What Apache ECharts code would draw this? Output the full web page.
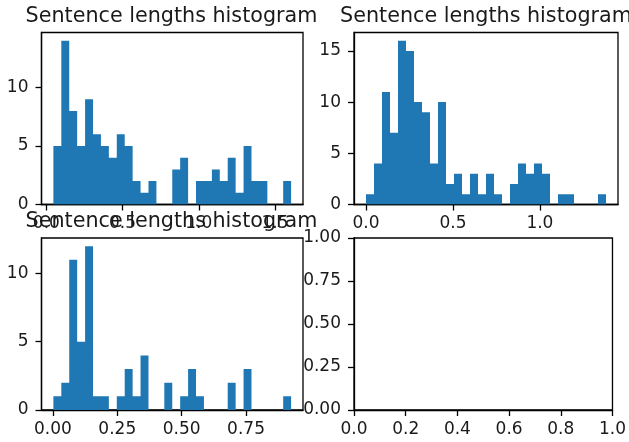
<!DOCTYPE html>
<html>
<head>
<meta charset="utf-8">
<script src="https://cdn.jsdelivr.net/npm/echarts@6/dist/echarts.min.js"></script>
<style>
html,body{margin:0;padding:0;background:#fff;}
#chart{width:629px;height:442px;}
</style>
</head>
<body>
<div id="chart"></div>
<script>
// ---- data ----
var titleText = 'Sentence lengths histogram';

// histogram 1 (top-left): 30 bins over the data range
var hist1Range = [0.046, 1.606];
var hist1Counts = [5, 14, 8, 5, 9, 6, 5, 4, 6, 5, 2, 1, 2, 0, 0, 3, 4, 0, 2, 2, 3, 2, 4, 1, 5, 2, 2, 0, 0, 2];

// histogram 2 (top-right)
var hist2Range = [0.0, 1.38];
var hist2Counts = [1, 4, 11, 7, 16, 15, 10, 9, 4, 10, 2, 3, 1, 3, 1, 3, 1, 0, 2, 4, 3, 4, 3, 0, 1, 1, 0, 0, 0, 1];

// histogram 3 (bottom-left)
var hist3Range = [0.002, 0.925];
var hist3Counts = [1, 2, 11, 5, 12, 1, 1, 0, 1, 3, 1, 4, 0, 0, 2, 0, 1, 3, 1, 0, 0, 0, 2, 0, 3, 0, 0, 0, 0, 1];

// axis limits
var xLim1 = [-0.032, 1.684], yLim1 = [0, 14.7];
var xLim2 = [-0.069, 1.449], yLim2 = [0, 16.8];
var xLim3 = [-0.0442, 0.9712], yLim3 = [0, 12.6];
var xLim4 = [0, 1], yLim4 = [0, 1];

// tick values
var xTicks1 = [0, 0.5, 1.0, 1.5];
var yTicks1 = [0, 5, 10];
var xTicks2 = [0, 0.5, 1.0];
var yTicks2 = [0, 5, 10, 15];
var xTicks3 = [0, 0.25, 0.5, 0.75];
var yTicks3 = [0, 5, 10];
var xTicks4 = [0, 0.2, 0.4, 0.6, 0.8, 1.0];
var yTicks4 = [0, 0.25, 0.5, 0.75, 1.0];

// ---- build ----
// step outline of the histogram: left edge of each bin with its count, plus the right end
function stepData(range, counts) {
  var n = counts.length, w = (range[1] - range[0]) / n, out = [];
  for (var i = 0; i < n; i++) out.push([range[0] + i * w, counts[i]]);
  out.push([range[1], counts[n - 1]]);
  return out;
}

var FONT = 'DejaVu Sans';
var TXT = '#1a1a1a';
var LINE = '#000';
var BAR = '#1f77b4';

var grids = [
  {left: 41.5, top: 32.5, width: 261.5, height: 172},
  {left: 354, top: 32.5, width: 264, height: 172},
  {left: 41.5, top: 238, width: 261.5, height: 172},
  {left: 354, top: 238, width: 264, height: 172}
];
grids.forEach(function (g) {
  g.show = true; g.borderColor = LINE; g.borderWidth = 1.3; g.backgroundColor = 'transparent';
  g.containLabel = false;
});

function xAxis(idx, lim, ticks, digits) {
  return {
    gridIndex: idx, type: 'value', min: lim[0], max: lim[1],
    axisLine: {show: true, onZero: false, lineStyle: {color: LINE, width: 1.3}},
    axisTick: {show: true, inside: false, length: 6, customValues: ticks, lineStyle: {color: LINE, width: 1.3}},
    axisLabel: {show: true, customValues: ticks, margin: 11, fontSize: 17, fontFamily: FONT, color: TXT,
      formatter: function (v) { return Number(v).toFixed(digits); }},
    splitLine: {show: false}
  };
}
function yAxis(idx, lim, ticks, digits) {
  return {
    gridIndex: idx, type: 'value', min: lim[0], max: lim[1],
    axisLine: {show: true, onZero: false, lineStyle: {color: LINE, width: 1.3}},
    axisTick: {show: true, inside: false, length: 6, customValues: ticks, lineStyle: {color: LINE, width: 1.3}},
    axisLabel: {show: true, customValues: ticks, margin: 13, fontSize: 17, fontFamily: FONT, color: TXT,
      formatter: function (v) { return Number(v).toFixed(digits); }},
    splitLine: {show: false}
  };
}

function histSeries(idx, range, counts) {
  return {
    type: 'line', xAxisIndex: idx, yAxisIndex: idx,
    data: stepData(range, counts),
    step: 'end',
    showSymbol: false, symbol: 'none',
    lineStyle: {width: 0, opacity: 0},
    areaStyle: {color: BAR, opacity: 1, origin: 0},
    silent: true,
    z: 1
  };
}

function title(cx, top) {
  return {text: titleText, left: cx, top: top, textAlign: 'center', padding: 0,
    textStyle: {fontSize: 20.7, fontWeight: 'normal', fontFamily: FONT, color: TXT}};
}

var option = {
  animation: false,
  backgroundColor: '#fff',
  title: [title(171.5, 6), title(486, 6), title(171.5, 211.5)],
  grid: grids,
  xAxis: [xAxis(0, xLim1, xTicks1, 1), xAxis(1, xLim2, xTicks2, 1), xAxis(2, xLim3, xTicks3, 2), xAxis(3, xLim4, xTicks4, 1)],
  yAxis: [yAxis(0, yLim1, yTicks1, 0), yAxis(1, yLim2, yTicks2, 0), yAxis(2, yLim3, yTicks3, 0), yAxis(3, yLim4, yTicks4, 2)],
  series: [
    histSeries(0, hist1Range, hist1Counts),
    histSeries(1, hist2Range, hist2Counts),
    histSeries(2, hist3Range, hist3Counts)
  ]
};

var chart = echarts.init(document.getElementById('chart'), null, {renderer: 'canvas', width: 629, height: 442});
chart.setOption(option);
</script>
</body>
</html>
